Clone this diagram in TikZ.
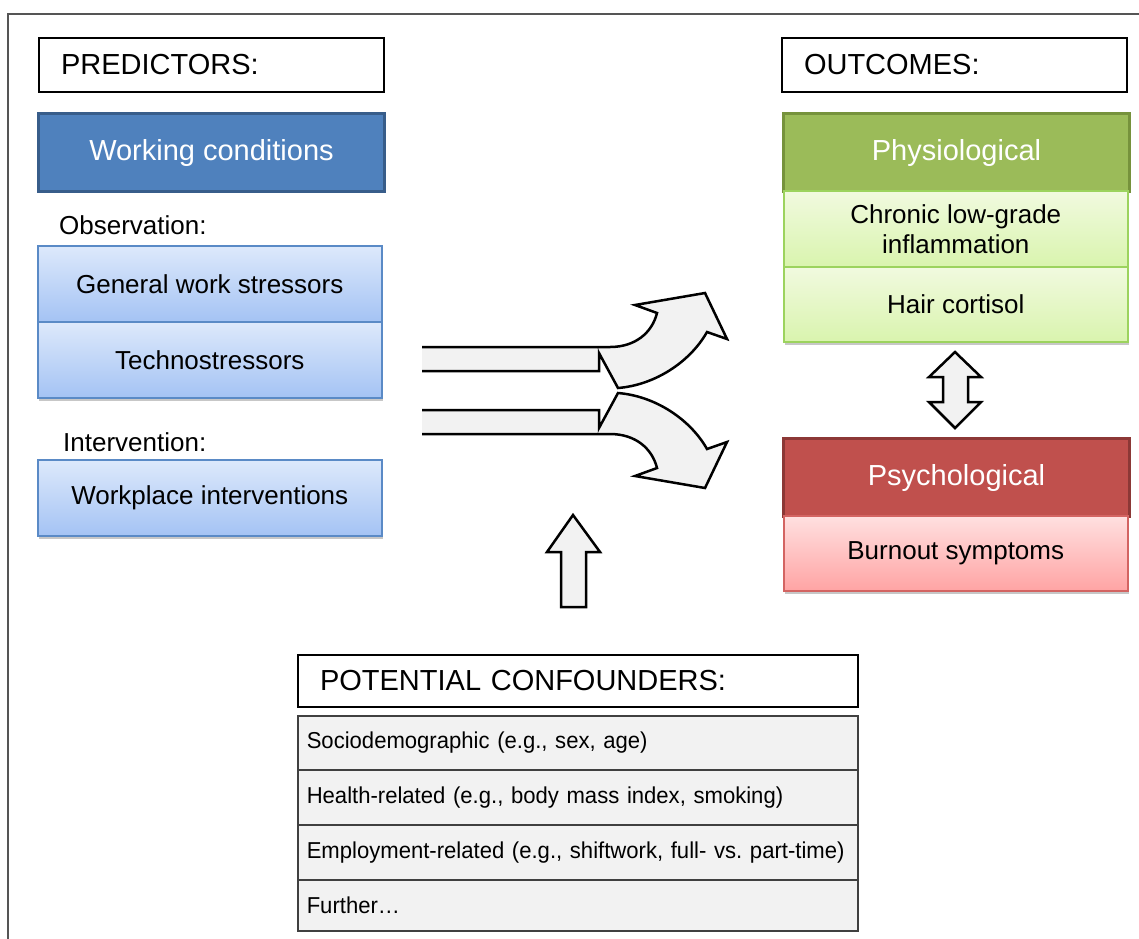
\documentclass[tikz,border=0pt]{standalone}
\usepackage{fontspec}
\setmainfont{Liberation Sans}
\newfontfamily\condfont[FakeStretch=0.96]{Liberation Sans}
\usetikzlibrary{shadows}
\definecolor{wcfill}{HTML}{4F81BD}
\definecolor{wcline}{HTML}{385D8A}
\definecolor{bltop}{HTML}{DDE9FB}
\definecolor{blbot}{HTML}{A4C3F4}
\definecolor{blline}{HTML}{5A8AC6}
\definecolor{gnfill}{HTML}{9BBB59}
\definecolor{gnline}{HTML}{76923C}
\definecolor{gntop}{HTML}{F1FADF}
\definecolor{gnbot}{HTML}{D9F4AE}
\definecolor{gnitemline}{HTML}{9CD35E}
\definecolor{rdfill}{HTML}{C0504D}
\definecolor{rdline}{HTML}{8C3836}
\definecolor{rdtop}{HTML}{FFE0E0}
\definecolor{rdbot}{HTML}{FFA4A4}
\definecolor{rditemline}{HTML}{D36462}
\definecolor{cfill}{HTML}{F2F2F2}
\definecolor{cline}{HTML}{404040}
\definecolor{frame}{HTML}{555555}
\definecolor{arrfill}{HTML}{F2F2F2}
\tikzset{
  lblbox/.style={font=\fontsize{29}{34}\selectfont, draw=black, line width=2pt, fill=white,
    minimum height=54pt, inner xsep=22pt, text width=301pt, align=left, anchor=north west},
  hdrbox/.style={font=\fontsize{29}{34}\selectfont, text=white, line width=3pt,
    minimum width=346pt, minimum height=78pt, anchor=north west, inner sep=0pt},
  itembox/.style={font=\fontsize{26}{30}\selectfont, line width=1.5pt,
    minimum width=344pt, minimum height=76pt, anchor=north west, align=center, inner sep=0pt,
    drop shadow={shadow xshift=1pt, shadow yshift=-3pt, fill=black, opacity=0.22}},
  bluebox/.style={itembox, draw=blline, top color=bltop, bottom color=blbot},
  greenbox/.style={itembox, draw=gnitemline, top color=gntop, bottom color=gnbot},
  redbox/.style={itembox, draw=rditemline, top color=rdtop, bottom color=rdbot},
  sublabel/.style={font=\fontsize{26}{30}\selectfont, anchor=west, inner sep=0pt},
  confrow/.style={font=\condfont\fontsize{23}{27}\selectfont, draw=cline, line width=1.5pt, fill=cfill,
    minimum width=560pt, anchor=north west, inner xsep=9pt, text width=542pt, align=left},
  blockarrow/.style={fill=arrfill, draw=black, line width=2.5pt, line join=miter},
}
\begin{document}
\begin{tikzpicture}[x=1pt,y=-1pt]
\useasboundingbox (0,0) rectangle (1139,938);
% outer frame
\draw[frame, line width=2pt] (8,960) -- (8,14) -- (1160,14);

% predictors
\node[lblbox] (pred) at (38,37) {PREDICTORS:};
\node[hdrbox, draw=wcline, fill=wcfill] (wc) at (37,112) {Working conditions};
\node[sublabel] (obs) at (59,225) {Observation:};
\node[bluebox] (gws) at (37,245) {General work stressors};
\node[bluebox] (tech) at (37,321) {Technostressors};
\node[sublabel] (int) at (63,442) {Intervention:};
\node[bluebox] (wpi) at (37,459) {Workplace interventions};

% outcomes
\node[lblbox] (outc) at (781,37) {OUTCOMES:};
\node[hdrbox, draw=gnline, fill=gnfill] (phys) at (782,112) {Physiological};
\node[greenbox, minimum height=76pt] (crp) at (783,190) {Chronic low-grade\\inflammation};
\node[greenbox, minimum height=75pt] (hair) at (783,266) {Hair cortisol};
\node[hdrbox, draw=rdline, fill=rdfill] (psy) at (782,437) {Psychological};
\node[redbox, minimum height=75pt] (burn) at (783,515) {Burnout symptoms};

% confounders
\node[lblbox, text width=516pt, minimum height=52pt] (conf) at (297,654) {POTENTIAL CONFOUNDERS:};
\node[confrow, minimum height=54pt] (c1) at (297,715) {Sociodemographic (e.g., sex, age)};
\node[confrow, minimum height=55pt] (c2) at (297,769) {Health-related (e.g., body mass index, smoking)};
\node[confrow, minimum height=55pt] (c3) at (297,824) {Employment-related (e.g., shiftwork, full- vs.\ part-time)};
\node[confrow, minimum height=51pt] (c4) at (297,879) {Further\dots};

% double arrow between physiological and psychological
\coordinate (dtop) at (955,352);
\coordinate (dbot) at (955,428);
\draw[blockarrow] (dtop) -- (929,377) -- (943,377) -- (943,402) -- (929,402) -- (dbot)
  -- (981,402) -- (968,402) -- (968,377) -- (981,377) -- cycle;

% up arrow from confounders
\coordinate (utip) at (573,515);
\draw[blockarrow] (utip) -- (547,552) -- (561,552) -- (561,607) -- (586,607) -- (586,552) -- (600,552) -- cycle;

% curved arrows
\filldraw[blockarrow] (422,347) -- (610,347) .. controls (635,347) and (652,333) .. (657,313)
  -- (635,305) -- (705,293) -- (727,339) -- (707,332)
  .. controls (690,362) and (655,385) .. (618,388) -- (599,353) -- (599,371) -- (422,371);
\filldraw[blockarrow] (422,434) -- (610,434) .. controls (635,434) and (652,448) .. (657,468)
  -- (635,476) -- (705,488) -- (727,442) -- (707,449)
  .. controls (690,419) and (655,396) .. (618,393) -- (599,428) -- (599,410) -- (422,410);
\end{tikzpicture}
\end{document}
